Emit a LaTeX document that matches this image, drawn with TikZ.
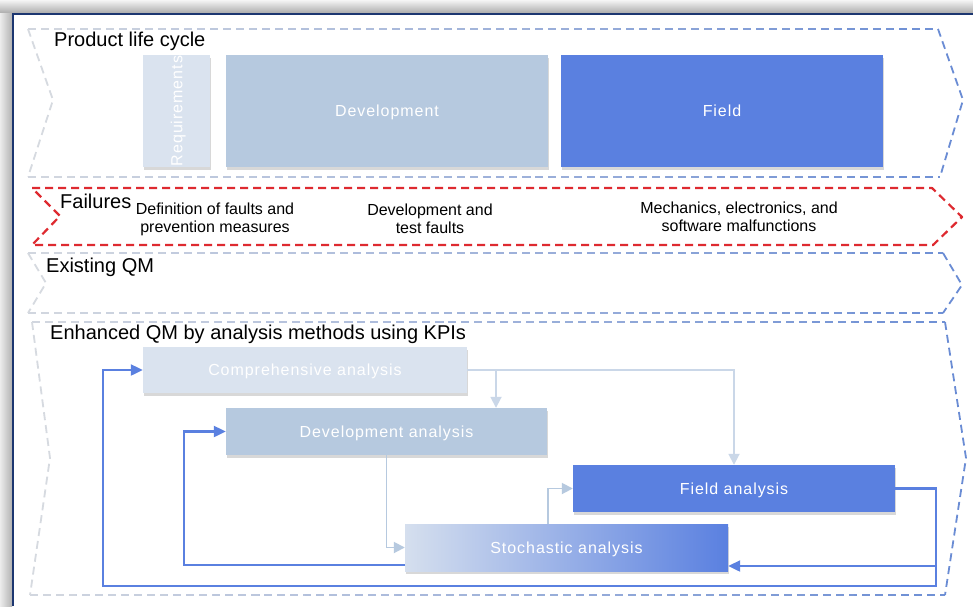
\documentclass[tikz,border=0pt]{standalone}
\usepackage{fontspec}
\setmainfont{Liberation Sans}
\newfontfamily\boxfont[LetterSpace=6]{Liberation Sans}
\usetikzlibrary{arrows.meta,shadows,calc}
\definecolor{chA}{HTML}{D6DAE0}
\definecolor{chB}{HTML}{6A8CD4}
\definecolor{redc}{HTML}{DE2A30}
\definecolor{navy}{HTML}{1C3670}
\definecolor{paleb}{HTML}{DAE3EF}
\definecolor{midb}{HTML}{B6C9DF}
\definecolor{strb}{HTML}{5A80E0}
\definecolor{stL}{HTML}{D5DFEE}
\definecolor{conL}{HTML}{CAD7E8}
\definecolor{conM}{HTML}{B6C9DF}
\newcommand\gseg[3]{%
  \foreach \i in {0,...,19}{%
    \pgfmathsetmacro\xa{#1+(#2-#1)/20*\i}%
    \pgfmathsetmacro\xb{#1+(#2-#1)/20*(\i+1)}%
    \pgfmathtruncatemacro\pc{(\xa/2+\xb/2)/9.73}%
    \pgfmathsetmacro\ph{mod(\xa-#1,13)}%
    \colorlet{segc}{chB!\pc!chA}%
    \draw[segc,chevline,dash phase=\ph pt] (\xa,#3) -- (\xb,#3);
  }}
\begin{document}
\begin{tikzpicture}[x=1pt,y=-1pt,
  chevline/.style={line width=1.8pt,dash pattern=on 8pt off 5pt},
  plc/.style={rectangle,inner sep=0pt,text=white,text depth=0pt,
    font=\boxfont\fontsize{16}{19}\selectfont,
    drop shadow={shadow xshift=0.6pt,shadow yshift=-2.5pt,opacity=0.3}},
  lightarr/.style={draw=conL,line width=1.8pt,-{Triangle[length=11pt,width=11pt]}},
  midarr/.style={draw=conM,line width=1.8pt,-{Triangle[length=11pt,width=11pt]}},
  bluearr/.style={draw=strb,line width=2.2pt,-{Triangle[length=12pt,width=11pt]}},
  head/.style={font=\fontsize{20}{24}\selectfont,inner sep=0pt,anchor=west},
  ftext/.style={font=\fontsize{16}{18}\selectfont,align=center,inner sep=0pt}]
\useasboundingbox (0,0) rectangle (973,606);
% frame
\fill[white] (0,0) rectangle (973,606);
\shade[top color=gray!8,bottom color=gray!65] (0,0) rectangle (973,13);
\shade[left color=gray!15,right color=gray!60] (0,13) rectangle (12,606);
\draw[navy,line width=2pt] (13,606) -- (13,14) -- (973,14);

% chevron: product life cycle
\gseg{28}{938}{29}
\gseg{28}{940}{177}
\draw[chA,chevline] (28,29) -- (53,100) -- (28,177);
\draw[chB,chevline] (938,29) -- (963,100) -- (940,177);
% failures
\draw[redc,line width=2.2pt,dash pattern=on 8pt off 5pt,line join=round]
  (32,188) -- (932,188) -- (962,217) -- (933,245) -- (32,245) -- (60,216) -- cycle;
% existing QM
\gseg{28}{943}{253}
\gseg{28}{943}{313}
\draw[chA,chevline] (28,253) -- (46,283) -- (28,313);
\draw[chB,chevline] (943,253) -- (962,285) -- (943,313);
% enhanced QM
\gseg{32}{945}{322}
\gseg{30}{945}{595}
\draw[chA,chevline] (32,322) -- (50,458) -- (30,595);
\draw[chB,chevline] (945,322) -- (966,458) -- (945,595);

% headings
\node[head] (hplc) at (54,41) {Product life cycle};
\node[head] (hfail) at (60,201) {Failures};
\node[head] (hex) at (46,267) {Existing QM};
\node[head] (henh) at (50,334) {Enhanced QM by analysis methods using KPIs};

% failure texts
\node[ftext] (f1) at (215,219) {Definition of faults and\\prevention measures};
\node[ftext] (f2) at (430,219) {Development and\\test faults};
\node[ftext] (f3) at (739,217) {Mechanics, electronics, and\\software malfunctions};

% life cycle boxes
\node[plc,fill=paleb,minimum width=67pt,minimum height=112pt] (req) at (176.5,111) {};
\node[rotate=90,inner sep=0pt,text=white,text depth=0pt,
  font=\boxfont\fontsize{16}{19}\selectfont] (reqt) at (req.center) {Requirements};
\node[plc,fill=midb,minimum width=322pt,minimum height=112pt] (devp) at (387,111) {Development};
\node[plc,fill=strb,minimum width=322pt,minimum height=112pt] (fieldp) at (722,111) {Field};

% analysis boxes
\node[plc,fill=paleb,minimum width=324pt,minimum height=46pt] (comp) at (305,370) {Comprehensive analysis};
\node[plc,fill=midb,minimum width=321pt,minimum height=47pt] (deva) at (386.5,431.5) {Development analysis};
\node[plc,fill=strb,minimum width=322pt,minimum height=47pt] (fielda) at (734,488.5) {Field analysis};
\node[plc,left color=stL,right color=strb,minimum width=323pt,minimum height=47pt] (stoch) at (566.5,547.5) {Stochastic analysis};

% light connectors
\draw[lightarr] (comp.east) -| (fielda.north);
\coordinate (b1) at (496,370);
\draw[lightarr] (b1) -- (b1 |- deva.north);
\draw[midarr] (deva.south) |- (stoch.west);
\coordinate (s1) at (548,524);
\draw[midarr] (s1) |- (fielda.west);

% blue feedback connectors
\coordinate (r1) at (936,566);
\coordinate (r2) at (936,586);
\coordinate (l1) at (103,586);
\coordinate (l0) at (103,370);
\draw[bluearr] (fielda.east) -| (r1) -- (r1 -| stoch.east);
\draw[bluearr] (r1) -- (r2) -- (l1) -- (l0) -- (comp.west);
\coordinate (s2) at (405,565);
\coordinate (s3) at (184,565);
\coordinate (s4) at (184,431.5);
\draw[bluearr] (s2) -- (s3) -- (s4) -- (deva.west);
\end{tikzpicture}
\end{document}
